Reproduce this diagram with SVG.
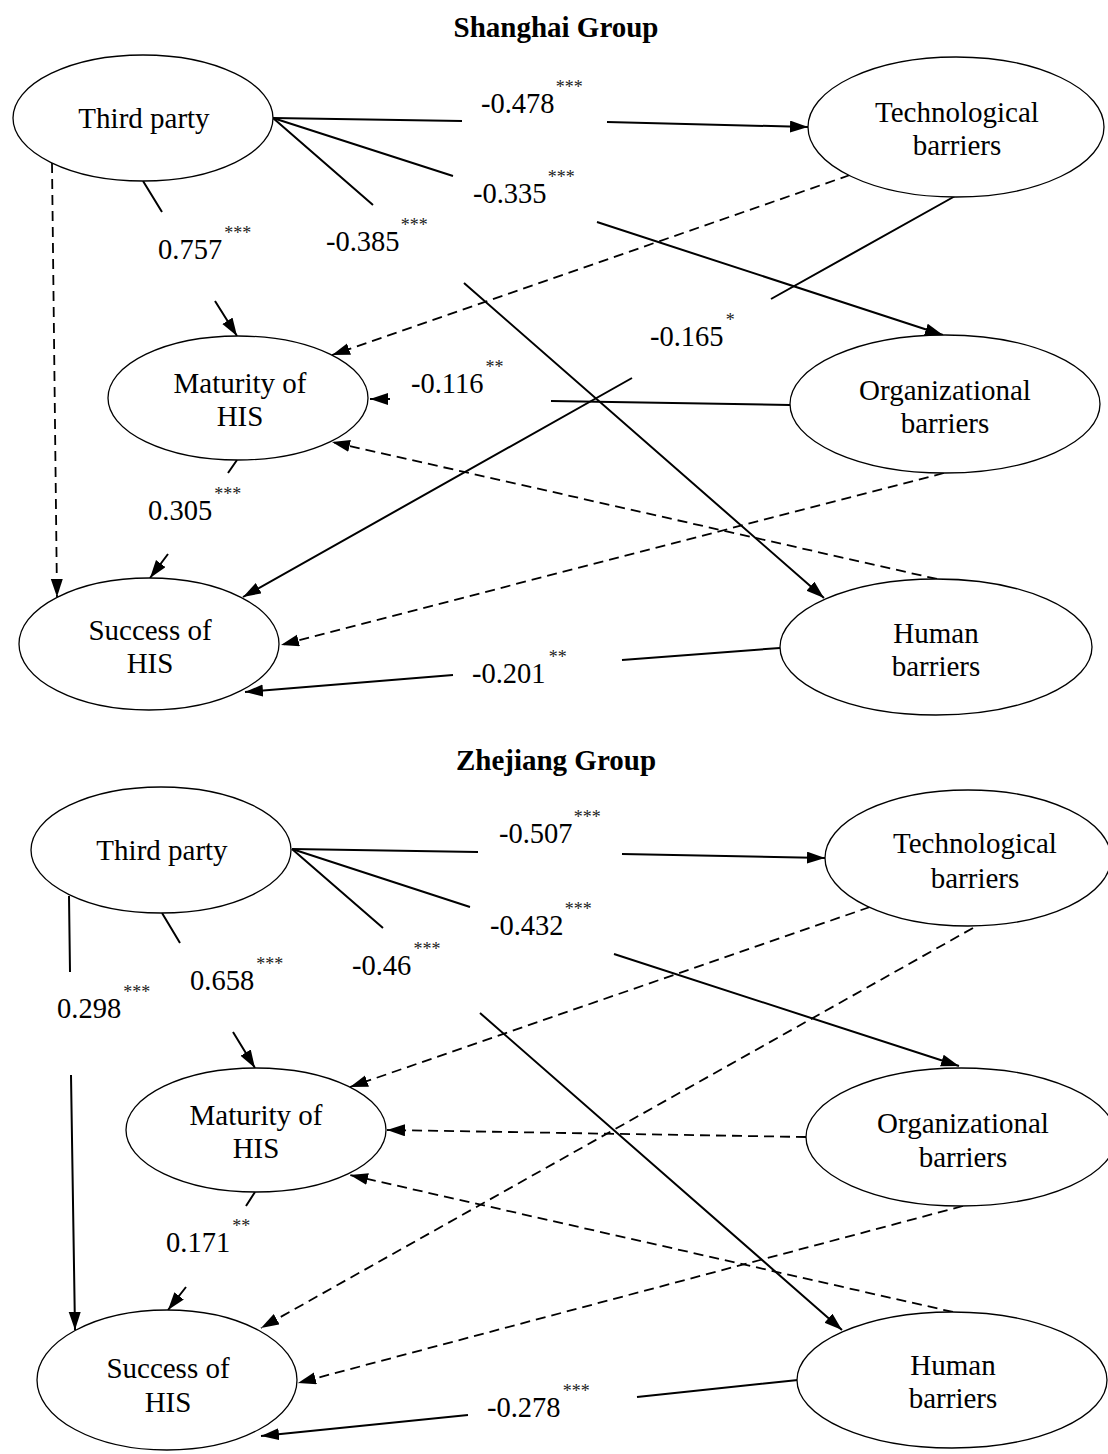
<svg xmlns="http://www.w3.org/2000/svg" width="1108" height="1454" viewBox="0 0 1108 1454">
  <style>
    .bg { fill: #ffffff; }
    .node ellipse { fill: #ffffff; stroke: #000000; stroke-width: 1.3; }
    .node text { font-family: "Liberation Serif", "Times New Roman", serif; font-size: 29px; fill: #000000; text-anchor: middle; }
    .title { font-family: "Liberation Serif", "Times New Roman", serif; font-size: 29px; font-weight: bold; fill: #000000; text-anchor: middle; }
    .edge { fill: none; stroke: #000000; stroke-width: 2; marker-end: url(#arrow); }
    .dash { stroke-dasharray: 10 6; stroke-width: 1.8; }
    .lbl { font-family: "Liberation Serif", "Times New Roman", serif; font-size: 28.5px; fill: #000000; }
    .sig { font-size: 18px; fill: #222222; }
  </style>
  <defs>
    <marker id="arrow" markerUnits="userSpaceOnUse" markerWidth="20" markerHeight="14" refX="18" refY="6" orient="auto">
      <path d="M0,0 L18,6 L0,12 Z" fill="#000000"/>
    </marker>
  </defs>
  <rect class="bg" x="0" y="0" width="1108" height="1454"/>

  <!-- Shanghai model -->
  <text class="title" x="556" y="37">Shanghai Group</text>

  <g id="connectors-shanghai">
    <path class="edge" d="M273,118 L462,121 M607,122 L808,127"/>
    <path class="edge" d="M273,118 L453,176 M597,222 L943,335"/>
    <path class="edge" d="M273,118 L373,205 M464,283 L824,598"/>
    <path class="edge" d="M143,181 L162,212 M215,301 L237,336"/>
    <path class="edge dash" d="M52,163 L57,597"/>
    <path class="edge" d="M957,195 L771,299 M632,378 L243,597"/>
    <path class="edge" d="M237,460 L228,473 M168,554 L150,578"/>
    <path class="edge" d="M790,405 L551,401 M390,399 L370,399"/>
    <path class="edge" d="M780,648 L622,660 M453,675 L245,692"/>
    <path class="edge dash" d="M850,175 L332,355"/>
    <path class="edge dash" d="M937,579 L332,442"/>
    <path class="edge dash" d="M944,473 L281,645"/>
  </g>

  <g id="labels-shanghai" class="lbl">
    <text x="481" y="113">-0.478<tspan class="sig" dx="1" dy="-20">***</tspan></text>
    <text x="473" y="203">-0.335<tspan class="sig" dx="1" dy="-20">***</tspan></text>
    <text x="158" y="259">0.757<tspan class="sig" dx="2" dy="-20">***</tspan></text>
    <text x="326" y="251">-0.385<tspan class="sig" dx="1" dy="-20">***</tspan></text>
    <text x="650" y="346">-0.165<tspan class="sig" dx="2" dy="-20">*</tspan></text>
    <text x="411" y="393">-0.116<tspan class="sig" dx="2" dy="-20">**</tspan></text>
    <text x="148" y="520">0.305<tspan class="sig" dx="2" dy="-20">***</tspan></text>
    <text x="472" y="683">-0.201<tspan class="sig" dx="3" dy="-20">**</tspan></text>
  </g>

  <g id="sh-third-party" class="node">
    <ellipse cx="143" cy="118" rx="130" ry="63"/>
    <text x="144" y="128">Third party</text>
  </g>
  <g id="sh-technological" class="node">
    <ellipse cx="956" cy="127" rx="148" ry="70"/>
    <text x="957" y="122">Technological</text>
    <text x="957" y="155">barriers</text>
  </g>
  <g id="sh-maturity" class="node">
    <ellipse cx="238" cy="398" rx="130" ry="62"/>
    <text x="240" y="393">Maturity of</text>
    <text x="240" y="426">HIS</text>
  </g>
  <g id="sh-organizational" class="node">
    <ellipse cx="945" cy="404" rx="155" ry="69"/>
    <text x="945" y="400">Organizational</text>
    <text x="945" y="433">barriers</text>
  </g>
  <g id="sh-success" class="node">
    <ellipse cx="149" cy="644" rx="130" ry="66"/>
    <text x="150" y="640">Success of</text>
    <text x="150" y="673">HIS</text>
  </g>
  <g id="sh-human" class="node">
    <ellipse cx="936" cy="647" rx="156" ry="68"/>
    <text x="936" y="643">Human</text>
    <text x="936" y="676">barriers</text>
  </g>

  <!-- Zhejiang model -->
  <text class="title" x="556" y="770">Zhejiang Group</text>

  <g id="connectors-zhejiang">
    <path class="edge" d="M292,849 L478,852 M622,854 L825,858"/>
    <path class="edge" d="M292,849 L470,907 M614,954 L959,1066"/>
    <path class="edge" d="M292,849 L383,928 M480,1013 L842,1330"/>
    <path class="edge" d="M162,913 L180,943 M233,1032 L255,1068"/>
    <path class="edge" d="M69,896 L70,972 M71,1075 L75,1330"/>
    <path class="edge" d="M255,1192 L246,1206 M186,1287 L168,1310"/>
    <path class="edge" d="M798,1380 L637,1397 M468,1415 L261,1436"/>
    <path class="edge dash" d="M806,1137 L387,1130"/>
    <path class="edge dash" d="M870,907 L350,1087"/>
    <path class="edge dash" d="M973,928 L261,1328"/>
    <path class="edge dash" d="M953,1312 L350,1175"/>
    <path class="edge dash" d="M963,1206 L298,1383"/>
  </g>

  <g id="labels-zhejiang" class="lbl">
    <text x="499" y="843">-0.507<tspan class="sig" dx="1" dy="-20">***</tspan></text>
    <text x="490" y="935">-0.432<tspan class="sig" dx="1" dy="-20">***</tspan></text>
    <text x="190" y="990">0.658<tspan class="sig" dx="2" dy="-20">***</tspan></text>
    <text x="352" y="975">-0.46<tspan class="sig" dx="2" dy="-20">***</tspan></text>
    <text x="57" y="1018">0.298<tspan class="sig" dx="2" dy="-20">***</tspan></text>
    <text x="166" y="1252">0.171<tspan class="sig" dx="2" dy="-20">**</tspan></text>
    <text x="487" y="1417">-0.278<tspan class="sig" dx="2" dy="-20">***</tspan></text>
  </g>

  <g id="zj-third-party" class="node">
    <ellipse cx="161" cy="850" rx="130" ry="63"/>
    <text x="162" y="860">Third party</text>
  </g>
  <g id="zj-technological" class="node">
    <ellipse cx="968" cy="858" rx="143" ry="68"/>
    <text x="975" y="853">Technological</text>
    <text x="975" y="888">barriers</text>
  </g>
  <g id="zj-maturity" class="node">
    <ellipse cx="256" cy="1130" rx="130" ry="62"/>
    <text x="256" y="1125">Maturity of</text>
    <text x="256" y="1158">HIS</text>
  </g>
  <g id="zj-organizational" class="node">
    <ellipse cx="961" cy="1137" rx="155" ry="69"/>
    <text x="963" y="1133">Organizational</text>
    <text x="963" y="1167">barriers</text>
  </g>
  <g id="zj-success" class="node">
    <ellipse cx="167" cy="1380" rx="130" ry="70"/>
    <text x="168" y="1378">Success of</text>
    <text x="168" y="1412">HIS</text>
  </g>
  <g id="zj-human" class="node">
    <ellipse cx="952" cy="1380" rx="155" ry="68"/>
    <text x="953" y="1375">Human</text>
    <text x="953" y="1408">barriers</text>
  </g>
</svg>
